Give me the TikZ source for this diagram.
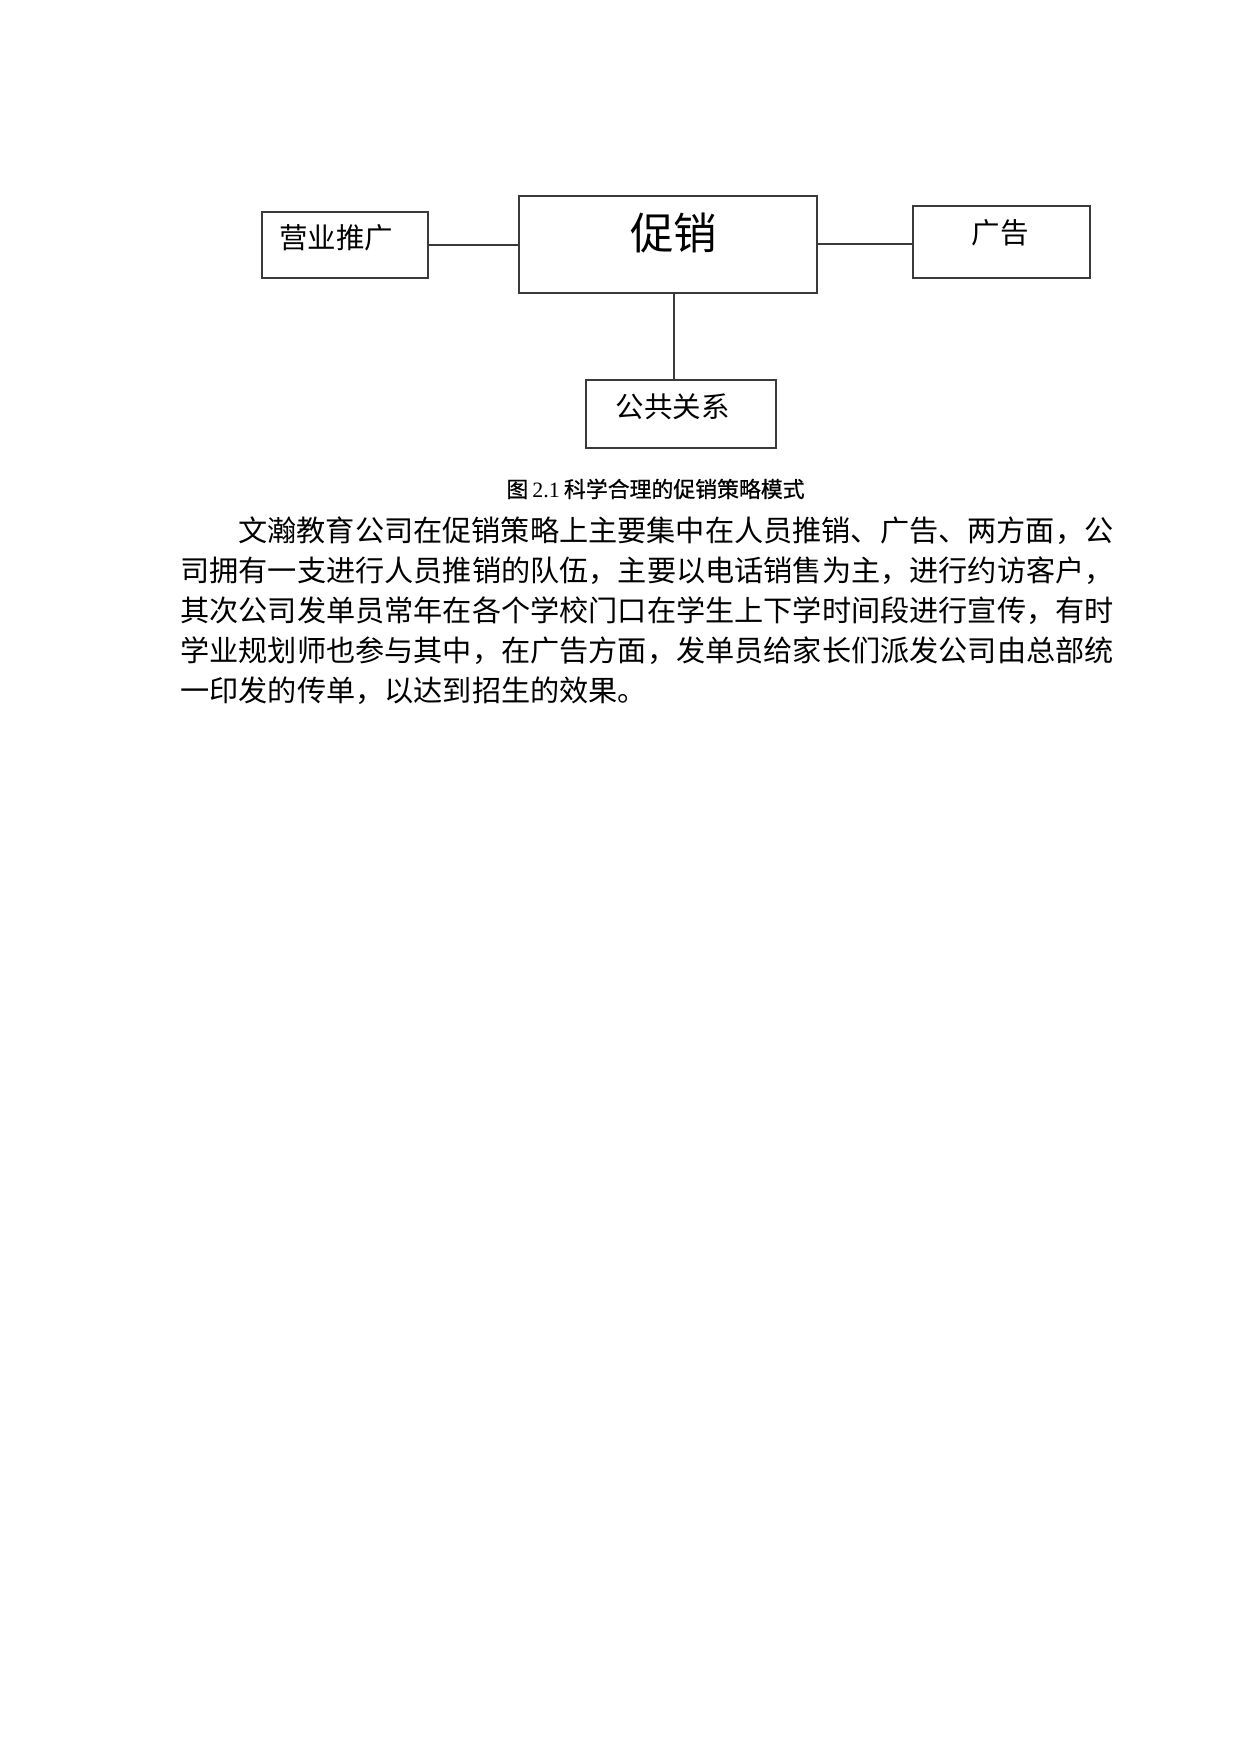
\documentclass[tikz,border=0pt]{standalone}
\usepackage{fontspec}
\newfontfamily\cjk{Noto Sans CJK SC}
\newfontfamily\cjkcap[FakeBold=0.8]{Noto Sans CJK SC}
\newfontfamily\tnr{Liberation Serif}
\definecolor{edge}{HTML}{3A3A3A}
\begin{document}
\begin{tikzpicture}[x=0.48pt,y=-0.48pt,
  box/.style={draw=edge,line width=0.96pt,inner sep=0pt},
  conn/.style={draw=edge,line width=0.96pt},
  lbl/.style={inner sep=0pt,font=\cjk\fontsize{13.68pt}{16pt}\selectfont,
    text height=11.49pt,text depth=1.09pt},
  biglbl/.style={inner sep=0pt,font=\cjk\fontsize{20.88pt}{24pt}\selectfont,
    text height=17.54pt,text depth=1.67pt},
  capt/.style={inner sep=0pt,anchor=west,font=\cjkcap\fontsize{10.5pt}{12.5pt}\selectfont,
    text height=8.82pt,text depth=0.84pt},
  bodyline/.style={inner sep=0pt,anchor=west,font=\cjk\fontsize{14pt}{16pt}\selectfont,
    text height=11.76pt,text depth=1.12pt}]
\useasboundingbox[fill=white] (0,0) rectangle (1240,1754);

% boxes
\node[box,minimum width=79.92pt,minimum height=31.68pt] (b1) at (345,244.5) {};
\node[box,minimum width=143.04pt,minimum height=46.56pt] (main) at (668,244) {};
\node[box,minimum width=85.15pt,minimum height=34.56pt] (b3) at (1001.3,241.7) {};
\node[box,minimum width=91.2pt,minimum height=32.64pt] (b4) at (681,414) {};

% labels
\node[lbl] (t1) at (336,238) {营业推广};
\node[biglbl] (t2) at (673.5,233) {促销};
\node[lbl] (t3) at (1000,232.5) {广告};
\node[lbl] (t4) at (672.5,407) {公共关系};

% connectors
\draw[conn] (b1.east) -- (b1.east -| main.west);
\draw[conn] (main.east) -- (main.east -| b3.west);
\path (main.south) ++(5.5,0) coordinate (vtop);
\draw[conn] (vtop) -- (vtop |- b4.north);

% caption
\node[capt] (cap) at (506,489) {图\hspace{2pt}{\tnr 2.1}\hspace{2pt}科学合理的促销策略模式};

% paragraph
\node[bodyline] (p1) at (238,530) {文瀚教育公司在促销策略上主要集中在人员推销、广告、两方面，公};
\node[bodyline] (p2) at (180,570) {司拥有一支进行人员推销的队伍，主要以电话销售为主，进行约访客户，};
\node[bodyline] (p3) at (180,610) {其次公司发单员常年在各个学校门口在学生上下学时间段进行宣传，有时};
\node[bodyline] (p4) at (180,650) {学业规划师也参与其中，在广告方面，发单员给家长们派发公司由总部统};
\node[bodyline] (p5) at (180,690) {一印发的传单，以达到招生的效果。};
\end{tikzpicture}
\end{document}
